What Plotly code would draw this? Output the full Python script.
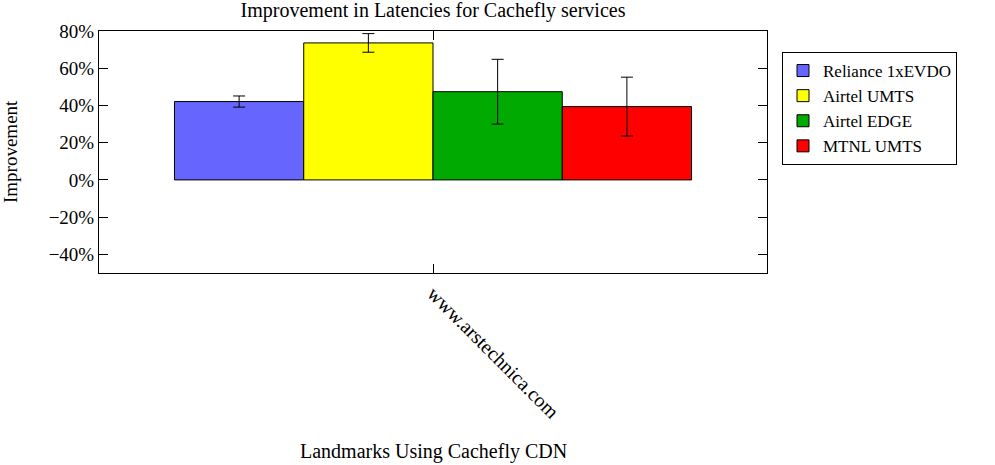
import plotly.graph_objects as go

categories = ["www.arstechnica.com"]
series_names = ["Reliance 1xEVDO", "Airtel UMTS", "Airtel EDGE", "MTNL UMTS"]
series_values = [[42.1], [73.6], [47.4], [39.4]]
series_errors = [[3.0], [5.0], [17.4], [15.8]]
series_colors = ["#6666ff", "#ffff00", "#00aa00", "#ff0000"]
y_ticks = [-40, -20, 0, 20, 40, 60, 80]
y_tick_labels = ["\u221240%", "\u221220%", "0%", "20%", "40%", "60%", "80%"]

FONT = "Liberation Serif"

fig = go.Figure()
for name, vals, errs, col in zip(series_names, series_values, series_errors, series_colors):
    fig.add_trace(go.Bar(
        x=categories, y=vals, name=name,
        marker=dict(color=col, line=dict(color="black", width=1)),
        error_y=dict(type="data", array=errs, visible=True, color="black",
                     thickness=1, width=6),
    ))

fig.update_layout(
    width=995, height=465,
    margin=dict(l=99, r=228, t=31, b=192),
    paper_bgcolor="white", plot_bgcolor="white",
    barmode="group", bargap=0.226, bargroupgap=0,
    font=dict(family=FONT, size=19, color="black"),
    title=dict(text="Improvement in Latencies for Cachefly services",
               x=(433/995), xanchor="center", y=1 - 10/465, yanchor="middle",
               font=dict(family=FONT, size=20, color="black")),
    legend=dict(x=(782-99)/668, y=(273-52)/242, xanchor="left", yanchor="top",
                bordercolor="black", borderwidth=1, bgcolor="white",
                font=dict(family=FONT, size=17, color="black"),
                tracegroupgap=0),
    showlegend=True,
)

fig.update_yaxes(
    range=[-50, 80], tickvals=y_ticks, ticktext=y_tick_labels,
    ticks="inside", ticklen=9, tickcolor="black", tickwidth=1,
    showline=True, linecolor="black", linewidth=1, mirror="ticks",
    showgrid=False, zeroline=False,
    tickfont=dict(family=FONT, size=19, color="black"),
)
fig.update_xaxes(
    ticks="inside", ticklen=9, tickcolor="black", tickwidth=1,
    showline=True, linecolor="black", linewidth=1, mirror="ticks",
    showgrid=False, tickangle=45,
    tickfont=dict(family=FONT, size=20, color="black"),
)

fig.add_annotation(text="Landmarks Using Cachefly CDN", xref="paper", yref="paper",
                   x=(433-99)/668, y=(273-451)/242, xanchor="center", yanchor="middle",
                   showarrow=False, font=dict(family=FONT, size=20, color="black"))
fig.add_annotation(text="Improvement", xref="paper", yref="paper",
                   x=(10-99)/668, y=(273-152)/242, xanchor="center", yanchor="middle",
                   textangle=-90, showarrow=False,
                   font=dict(family=FONT, size=19, color="black"))

fig.write_html("out.html")
